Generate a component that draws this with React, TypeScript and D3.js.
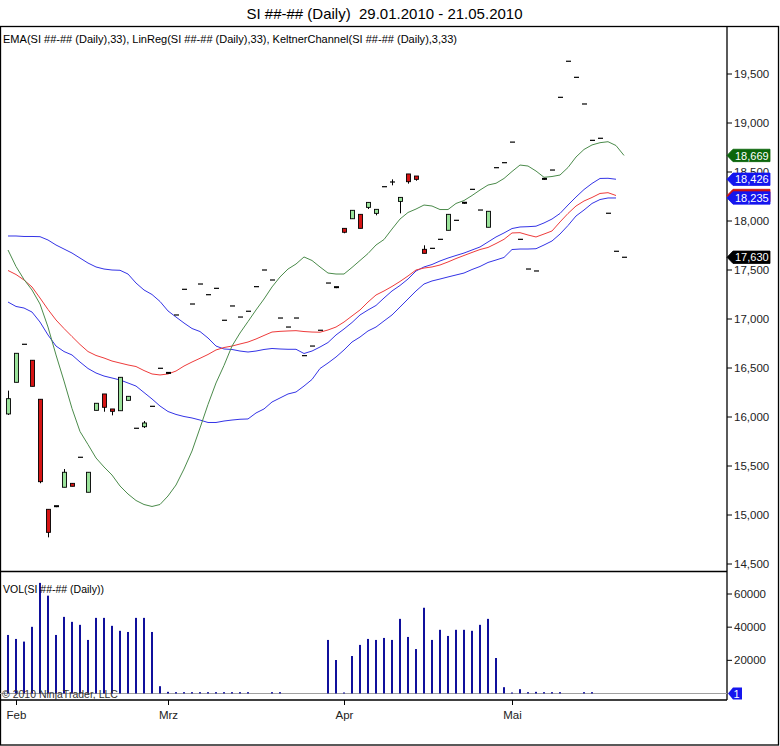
import React from "react";
import * as d3 from "d3";

const dates = [
  "2010-01-29",
  "2010-02-01","2010-02-02","2010-02-03","2010-02-04","2010-02-05","2010-02-08","2010-02-09","2010-02-10","2010-02-11","2010-02-12",
  "2010-02-16","2010-02-17","2010-02-18","2010-02-19","2010-02-22","2010-02-23","2010-02-24","2010-02-25","2010-02-26",
  "2010-03-01","2010-03-02","2010-03-03","2010-03-04","2010-03-05","2010-03-08","2010-03-09","2010-03-10","2010-03-11","2010-03-12",
  "2010-03-15","2010-03-16","2010-03-17","2010-03-18","2010-03-19","2010-03-22","2010-03-23","2010-03-24","2010-03-25","2010-03-26",
  "2010-03-29","2010-03-30",
  "2010-04-01","2010-04-05","2010-04-06","2010-04-07","2010-04-08","2010-04-09","2010-04-12","2010-04-13","2010-04-14","2010-04-15",
  "2010-04-16","2010-04-19","2010-04-20","2010-04-21","2010-04-22","2010-04-23","2010-04-26","2010-04-27","2010-04-28","2010-04-29",
  "2010-04-30",
  "2010-05-03","2010-05-04","2010-05-05","2010-05-06","2010-05-07","2010-05-10","2010-05-11","2010-05-12","2010-05-13","2010-05-14",
  "2010-05-17","2010-05-18","2010-05-19","2010-05-20","2010-05-21",
];

const monthNames = ["Jan", "Feb", "Mrz", "Apr", "Mai", "Jun"];

const open = [
  16031, 16354, 16742, 16579, 16181, 15058, 15090, 15283, 15323, 15589,
  15232, 16068, 16235, 16082, 16064, 16170, 15885, 15901, 16109, 16497,
  16450, 17041, 17303, 17153, 17357, 17248, 17313, 16987, 17133, 17020,
  17079, 17330, 17500, 17398, 17010, 16918, 17010, 16626, 16724, 16885,
  17367, 17325, 17925, 18023, 18068, 18139, 18078, 18350, 18398, 18200,
  18480, 18459, 17711, 17721, 17813, 17905, 18007, 18186, 18323, 18112,
  17936, 18544, 18595, 18805, 17813, 17510, 17490, 18430, 18520, 19262,
  19630, 19466, 19194, 18823, 18844, 18079, 17691, 17630,
];
const high = [
  16269, 16650, 16742, 16579, 16181, 15058, 15090, 15469, 15323, 15589,
  15436, 16140, 16235, 16082, 16405, 16211, 15885, 15959, 16109, 16497,
  16450, 17041, 17303, 17153, 17357, 17248, 17313, 16987, 17133, 17020,
  17079, 17330, 17500, 17398, 17010, 16918, 17010, 16626, 16724, 16885,
  17367, 17325, 17925, 18109, 18068, 18190, 18119, 18350, 18425, 18241,
  18480, 18459, 17752, 17721, 17813, 18068, 18007, 18186, 18323, 18112,
  18099, 18544, 18595, 18805, 17813, 17510, 17490, 18430, 18520, 19262,
  19630, 19466, 19194, 18823, 18844, 18079, 17691, 17630,
];
const low = [
  16021, 16354, 16742, 16313, 15324, 14772, 15080, 15283, 15293, 15589,
  15232, 16068, 16054, 16017, 16064, 16170, 15885, 15888, 16109, 16497,
  16442, 17041, 17303, 17153, 17357, 17248, 17313, 16987, 17133, 17020,
  17079, 17330, 17500, 17398, 17010, 16918, 17010, 16626, 16724, 16885,
  17367, 17315, 17875, 18023, 17925, 18122, 18058, 18350, 18364, 18078,
  18381, 18411, 17670, 17721, 17813, 17905, 18007, 18176, 18323, 18112,
  17936, 18544, 18595, 18805, 17813, 17510, 17490, 18420, 18520, 19262,
  19630, 19466, 19194, 18823, 18844, 18079, 17691, 17630,
];
const close = [
  16187, 16650, 16742, 16313, 15340, 14823, 15080, 15436, 15293, 15589,
  15436, 16140, 16099, 16058, 16405, 16211, 15885, 15939, 16109, 16497,
  16442, 17041, 17303, 17153, 17357, 17248, 17313, 16987, 17133, 17020,
  17079, 17330, 17500, 17398, 17010, 16918, 17010, 16626, 16724, 16885,
  17367, 17315, 17885, 18109, 17925, 18190, 18119, 18350, 18398, 18241,
  18401, 18425, 17670, 17721, 17813, 18068, 18007, 18176, 18323, 18112,
  18099, 18544, 18595, 18805, 17813, 17510, 17490, 18420, 18520, 19262,
  19630, 19466, 19194, 18823, 18844, 18079, 17691, 17630,
];

const volume = [
  35300, 32900, 31300, 40200, 66700, 59000, 35300, 46200, 43200, 41400,
  32300, 45600, 45600, 40800, 37800, 37100, 45600, 45600, 37100, 4400,
  1000, 800, 800, 800, 800, 800, 800, 800, 800, 800,
  800, 0, 0, 800, 800, 0, 0, 0, 0, 0,
  32300, 20200, 600, 22600, 29300, 32900, 32300, 33500, 32300, 45000,
  34100, 26800, 51700, 32300, 38400, 34700, 38400, 38400, 37800, 41400,
  45000, 21400, 3800, 600, 2600, 800, 1000, 800, 800, 800,
  0, 0, 800, 800, 0, 0, 0, 0,
];

const ema = [
  17495, 17454, 17398, 17327, 17214, 17097, 16990, 16903, 16821, 16740,
  16668, 16628, 16602, 16571, 16551, 16531, 16515, 16474, 16439, 16429,
  16439, 16469, 16520, 16561, 16599, 16638, 16684, 16709, 16724, 16745,
  16765, 16796, 16832, 16867, 16874, 16878, 16881, 16872, 16867, 16865,
  16888, 16918, 16969, 17031, 17092, 17173, 17245, 17286, 17332, 17383,
  17439, 17500, 17520, 17531, 17551, 17582, 17617, 17648, 17679, 17709,
  17730, 17770, 17813, 17878, 17881, 17857, 17837, 17867, 17898, 17990,
  18077, 18153, 18204, 18240, 18281, 18289, 18260,
];

const linReg = [
  17704, 17536, 17403, 17296, 17153, 16918, 16633, 16367, 16087, 15852,
  15719, 15582, 15490, 15408, 15296, 15214, 15148, 15107, 15087, 15107,
  15194, 15306, 15469, 15653, 15888, 16128, 16347, 16526, 16724, 16857,
  16974, 17092, 17204, 17327, 17429, 17510, 17561, 17633, 17597, 17531,
  17469, 17459, 17459, 17526, 17597, 17668, 17755, 17811, 17918, 18020,
  18087, 18122, 18163, 18153, 18117, 18117, 18179, 18209, 18260, 18316,
  18367, 18385, 18434, 18505, 18571, 18561, 18510, 18446, 18454, 18469,
  18546, 18653, 18730, 18776, 18799, 18809, 18770, 18669,
];

const keltnerUpper = [
  17847, 17847, 17842, 17842, 17840, 17806, 17755, 17714, 17673, 17622,
  17571, 17531, 17510, 17500, 17497, 17459, 17367, 17296, 17250, 17179,
  17082, 17020, 16959, 16903, 16872, 16806, 16724, 16694, 16689, 16673,
  16663, 16673, 16689, 16699, 16694, 16691, 16691, 16648, 16673, 16714,
  16760, 16837, 16898, 16964, 17041, 17092, 17138, 17214, 17286, 17342,
  17408, 17490, 17531, 17556, 17592, 17622, 17648, 17673, 17704, 17735,
  17786, 17837, 17878, 17923, 17939, 17942, 17947, 17980, 18020, 18077,
  18163, 18245, 18321, 18383, 18434, 18436, 18426,
];

const keltnerLower = [
  17173, 17128, 17112, 17071, 16969, 16837, 16724, 16668, 16633, 16561,
  16495, 16449, 16418, 16398, 16378, 16347, 16316, 16250, 16184, 16112,
  16056, 16026, 16005, 15990, 15969, 15944, 15944, 15959, 15969, 15977,
  15980, 16041, 16082, 16153, 16194, 16235, 16255, 16316, 16383, 16495,
  16551, 16612, 16684, 16765, 16816, 16878, 16918, 16980, 17041, 17122,
  17204, 17286, 17357, 17388, 17408, 17429, 17449, 17469, 17505, 17536,
  17577, 17602, 17628, 17709, 17714, 17714, 17717, 17755, 17796, 17867,
  17954, 18051, 18112, 18179, 18219, 18235, 18235,
];

const priceTicks = [14500, 15000, 15500, 16000, 16500, 17000, 17500, 18000, 18500, 19000, 19500];
const volumeTicks = [20000, 40000, 60000];

const titleText = "SI ##-## (Daily)  29.01.2010 - 21.05.2010";
const legendText = "EMA(SI ##-## (Daily),33), LinReg(SI ##-## (Daily),33), KeltnerChannel(SI ##-## (Daily),3,33)";
const volLegendText = "VOL(SI ##-## (Daily))";
const copyrightText = "\u00a9 2010 NinjaTrader, LLC";

const FONT = "'Liberation Sans', Arial, Helvetica, sans-serif";

const COL_UP = "#9be39b";
const COL_DOWN = "#d61414";
const COL_EMA = "#ee3b3b";
const COL_LIN = "#4b8b4b";
const COL_KC = "#3434e6";
const COL_VOL = "#10109c";

export default function App() {
  const W = 780;
  const H = 746;
  const plotRight = 727;
  const priceTop = 27;
  const divider = 571.5;
  const axisY = 700;

  const x = d3.scalePoint<string>().domain(dates).range([8, 624]);
  const y = d3.scaleLinear().domain([14500, 19500]).range([564, 74]);
  const yv = d3.scaleLinear().domain([0, 60000]).range([693.5, 594]);

  const idx = dates.map((_, i) => i);
  const xi = (i: number) => x(dates[i]) as number;

  const lineOf = (arr: number[]) =>
    d3
      .line<number>()
      .x((_, i) => xi(i))
      .y((d) => y(d))(arr) as string;

  const fmt = d3.format(",");

  const monthTicks = idx.filter(
    (i) => i > 0 && new Date(dates[i]).getUTCMonth() !== new Date(dates[i - 1]).getUTCMonth()
  );

  const flag = (val: number, fill: string, key: string) => {
    const yy = y(val);
    const h = 6.2;
    const pts = [
      [plotRight, yy],
      [plotRight + 6, yy - h],
      [770, yy - h],
      [770, yy + h],
      [plotRight + 6, yy + h],
    ]
      .map((p) => p.join(","))
      .join(" ");
    return (
      <g key={key}>
        <polygon points={pts} fill={fill} stroke={fill} strokeWidth={0.8} />
        <text x={735} y={yy + 4.1} fontSize={11} fill="#fff" fontFamily={FONT}>
          {fmt(val)}
        </text>
      </g>
    );
  };

  const lastLin = linReg[linReg.length - 1];
  const lastEma = ema[ema.length - 1];
  const lastUp = keltnerUpper[keltnerUpper.length - 1];
  const lastLo = keltnerLower[keltnerLower.length - 1];
  const lastClose = close[close.length - 1];

  return (
    <svg
      width={W}
      height={H}
      style={{ position: "absolute", left: 0, top: 0, background: "#fff" }}
      fontFamily={FONT}
    >
      <rect x={0} y={0} width={W} height={H} fill="#fff" />
      <text x={384.5} y={19} fontSize={15} textAnchor="middle" fill="#000" style={{ whiteSpace: "pre" }}>
        {titleText}
      </text>

      <rect x={0.5} y={priceTop - 0.5} width={W - 2} height={H - priceTop - 0.5} fill="none" stroke="#000" strokeWidth={1.3} />
      <line x1={plotRight} x2={plotRight} y1={priceTop} y2={axisY} stroke="#000" strokeWidth={1.3} />
      <line x1={0} x2={plotRight} y1={divider} y2={divider} stroke="#000" strokeWidth={1.3} />
      <line x1={0} x2={plotRight} y1={axisY} y2={axisY} stroke="#000" strokeWidth={1.3} />

      <text x={3} y={42.5} fontSize={10.5} fill="#000" textLength={454} lengthAdjust="spacingAndGlyphs">
        {legendText}
      </text>

      <path d={lineOf(keltnerUpper)} fill="none" stroke={COL_KC} strokeWidth={1} />
      <path d={lineOf(keltnerLower)} fill="none" stroke={COL_KC} strokeWidth={1} />
      <path d={lineOf(ema)} fill="none" stroke={COL_EMA} strokeWidth={1} />
      <path d={lineOf(linReg)} fill="none" stroke={COL_LIN} strokeWidth={1} />

      {idx.map((i) => {
        const cx = Math.round(xi(i)) + 0.5;
        const o = open[i];
        const c = close[i];
        const yTop = y(Math.max(o, c));
        const yBot = y(Math.min(o, c));
        const bh = yBot - yTop;
        const wick =
          high[i] !== low[i] ? (
            <line x1={cx} x2={cx} y1={y(high[i])} y2={y(low[i])} stroke="#000" strokeWidth={1} />
          ) : null;
        let body;
        if (o === c) {
          body = <line x1={cx - 2.5} x2={cx + 2.5} y1={yTop} y2={yTop} stroke="#000" strokeWidth={1.2} />;
        } else if (bh < 1.6) {
          body = <rect x={cx - 2.5} y={yTop - 1} width={5} height={2} fill="#000" />;
        } else {
          body = (
            <rect
              x={cx - 2}
              y={yTop}
              width={4}
              height={bh}
              fill={c > o ? COL_UP : COL_DOWN}
              stroke="#000"
              strokeWidth={0.9}
            />
          );
        }
        return (
          <g key={"c" + i}>
            {wick}
            {body}
          </g>
        );
      })}

      {priceTicks.map((t) => (
        <g key={"pt" + t}>
          <line x1={plotRight} x2={plotRight + 5} y1={y(t)} y2={y(t)} stroke="#000" strokeWidth={1} />
          <text x={734} y={y(t) + 4} fontSize={11.5} fill="#222">
            {fmt(t)}
          </text>
        </g>
      ))}

      {flag(lastLin, "#0b660b", "fl-lin")}
      {flag(lastEma, "#cc1010", "fl-ema")}
      {flag(lastUp, "#1515ee", "fl-up")}
      {flag(lastLo, "#1515ee", "fl-lo")}
      {flag(lastClose, "#000", "fl-close")}

      <line x1={0} x2={plotRight} y1={yv(0)} y2={yv(0)} stroke="#a0a0a0" strokeWidth={1} />
      {idx.map((i) =>
        volume[i] > 0 ? (
          <rect
            key={"v" + i}
            x={Math.round(xi(i)) - 1}
            y={yv(volume[i])}
            width={2}
            height={yv(0) - yv(volume[i])}
            fill={COL_VOL}
          />
        ) : null
      )}
      <text x={3} y={593} fontSize={10.5} fill="#000">
        {volLegendText}
      </text>
      <text x={2} y={697.5} fontSize={10.5} fill="#333">
        {copyrightText}
      </text>
      {volumeTicks.map((t) => (
        <g key={"vt" + t}>
          <line x1={plotRight} x2={plotRight + 5} y1={yv(t)} y2={yv(t)} stroke="#000" strokeWidth={1} />
          <text x={734} y={yv(t) + 4} fontSize={11.5} fill="#222">
            {t}
          </text>
        </g>
      ))}
      <g>
        <polygon
          points={[
            [plotRight + 1, yv(0)],
            [plotRight + 6, yv(0) - 6],
            [742, yv(0) - 6],
            [742, yv(0) + 6],
            [plotRight + 6, yv(0) + 6],
          ]
            .map((p) => p.join(","))
            .join(" ")}
          fill="#1515ee"
        />
        <text x={733.5} y={yv(0) + 4.2} fontSize={11} fill="#fff">
          1
        </text>
      </g>

      {monthTicks.map((i) => {
        const tx = Math.round(xi(i)) + 0.5;
        return (
          <g key={"m" + i}>
            <line x1={tx} x2={tx} y1={axisY} y2={axisY + 5} stroke="#000" strokeWidth={1} />
            <text x={tx} y={718.5} fontSize={11.5} textAnchor="middle" fill="#222">
              {monthNames[new Date(dates[i]).getUTCMonth()]}
            </text>
          </g>
        );
      })}
    </svg>
  );
}
